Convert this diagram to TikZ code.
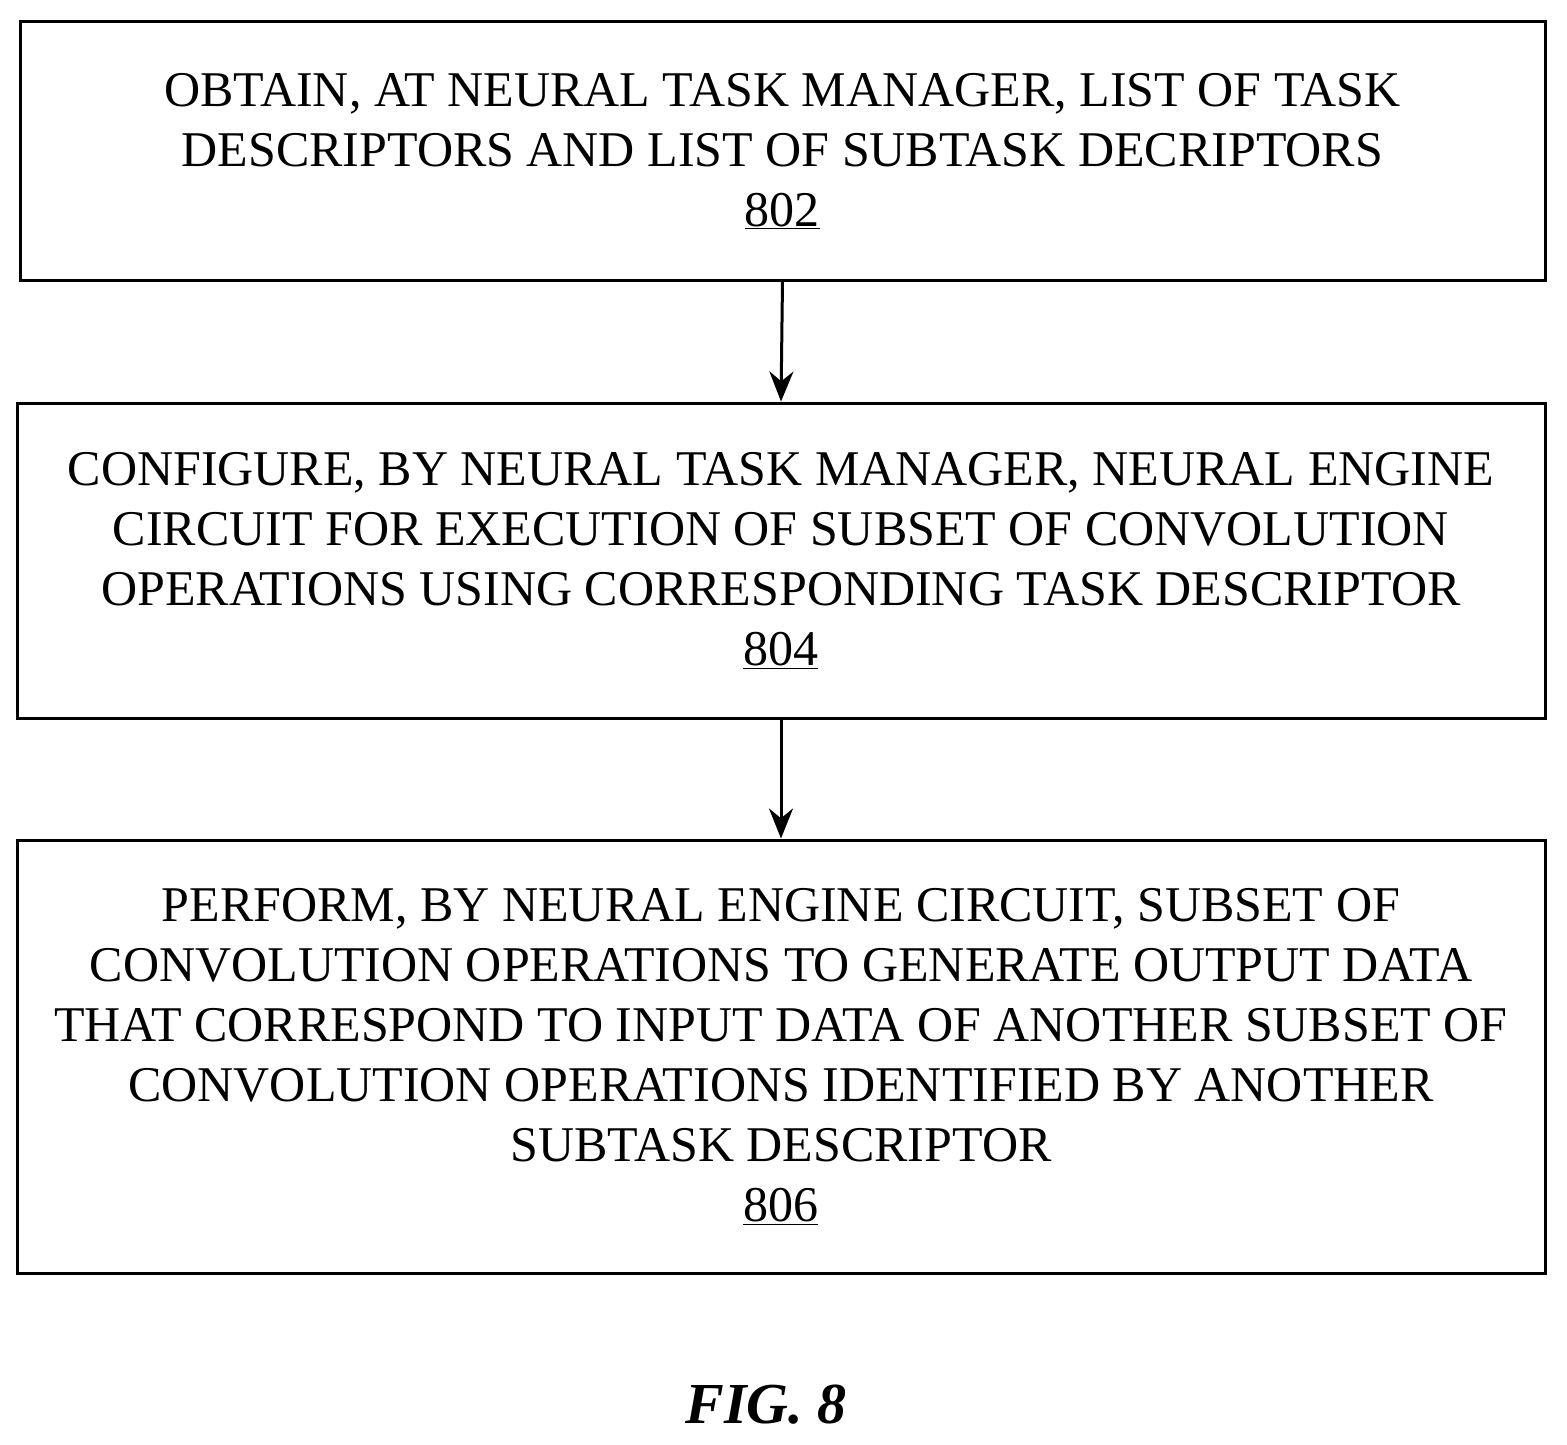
\documentclass[tikz,border=0pt]{standalone}
\usepackage{fontspec}
\setmainfont{Liberation Serif}
\usetikzlibrary{arrows.meta}
\begin{document}
\begin{tikzpicture}[x=1pt,y=-1pt,
  box/.style={draw,line width=3pt,rectangle},
  txt/.style={align=center,font=\fontsize{50}{60}\selectfont},
  arr/.style={-{Stealth[length=30pt,width=24pt]},line width=3pt}]
\useasboundingbox (0,0) rectangle (1567,1445);
\node[box,minimum width=1525pt,minimum height=258pt] (b1) at (782.5,151) {};
\node[txt] (t1) at (782.5,151) {OBTAIN, AT NEURAL TASK MANAGER, LIST OF TASK\\DESCRIPTORS AND LIST OF SUBTASK DECRIPTORS\\\underline{802}};
\node[box,minimum width=1528pt,minimum height=315pt] (b2) at (781,560.5) {};
\node[txt] (t2) at (781,560.5) {CONFIGURE, BY NEURAL TASK MANAGER, NEURAL ENGINE\\CIRCUIT FOR EXECUTION OF SUBSET OF CONVOLUTION\\OPERATIONS USING CORRESPONDING TASK DESCRIPTOR\\\underline{804}};
\node[box,minimum width=1528pt,minimum height=433pt] (b3) at (781,1056.5) {};
\node[txt] (t3) at (781,1056.5) {PERFORM, BY NEURAL ENGINE CIRCUIT, SUBSET OF\\CONVOLUTION OPERATIONS TO GENERATE OUTPUT DATA\\THAT CORRESPOND TO INPUT DATA OF ANOTHER SUBSET OF\\CONVOLUTION OPERATIONS IDENTIFIED BY ANOTHER\\SUBTASK DESCRIPTOR\\\underline{806}};
\draw[arr] (b1.south) -- (b2.north);
\draw[arr] (b2.south) -- (b3.north);
\node[font=\fontsize{58}{60}\selectfont\bfseries\itshape] (fig) at (766,1405) {FIG. 8};
\end{tikzpicture}
\end{document}
